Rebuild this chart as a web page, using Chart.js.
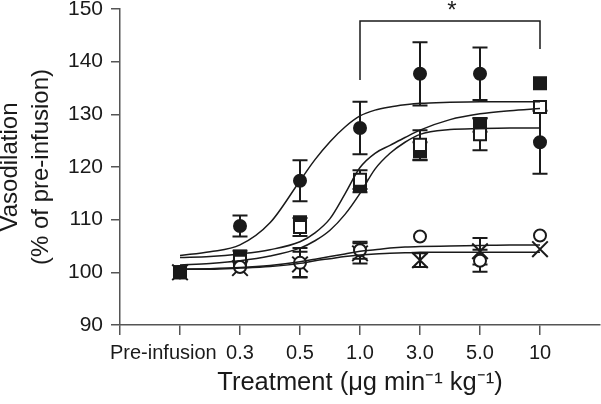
<!DOCTYPE html>
<html>
<head>
<meta charset="utf-8">
<script src="https://cdn.jsdelivr.net/npm/chart.js@4.4.1/dist/chart.umd.min.js"></script>
<style>
  body { margin: 0; background: #fff; }
  #wrap { width: 601px; height: 404px; }
</style>
</head>
<body>
<div id="wrap"><canvas id="chart" width="601" height="404"></canvas></div>
<script>
// --- Datos ---
const categories = ['Pre-infusion', '0.3', '0.5', '1.0', '3.0', '5.0', '10'];
const yTicks = [90, 100, 110, 120, 130, 140, 150];

const filledCircle = [100, 108.8, 117.4, 127.4, 137.7, 137.7, 124.7];
const filledCircleErr = [0, 2.0, 3.9, 5.0, 6.0, 5.0, 6.0];
const filledSquare = [100, 103.0, 109.5, 116.4, 123.0, 128.0, 135.9];
const filledSquareErr = [0, 1.1, 0, 1.2, 1.7, 1.3, 0];
const openSquare = [100, 102.0, 108.6, 117.6, 124.2, 126.2, 131.4];
const openSquareErr = [0, 0, 1.7, 1.8, 2.8, 3.0, 0];
const openCircle = [100, 101.0, 101.8, 104.2, 106.8, 102.2, 107.0];
const openCircleErr = [0, 0, 2.8, 1.6, 0, 2.1, 0];
const cross = [100, 100.8, 101.5, 103.6, 102.3, 104.0, 104.4];
const crossErr = [0, 0, 2.4, 1.9, 1.3, 2.5, 0];

// curvas ajustadas (mas puntos en la zona empinada)
const curveX = [0, 0.5, 1, 1.5, 2, 2.25, 2.5, 2.75, 3, 3.25, 3.5, 3.75, 4, 4.5, 5, 5.5, 6];
const fitFilledCircle = [103.2, 103.9, 105.2, 109.4, 117.4, 121.4, 124.8, 127.6, 129.7, 130.8, 131.4, 131.8, 132.1, 132.3, 132.4, 132.4, 132.4];
const fitOpenSquare = [102.8, 103.0, 103.5, 104.3, 105.8, 107.5, 110.2, 114.9, 119.9, 122.6, 124.1, 125.6, 127.0, 129.0, 130.1, 130.7, 131.1];
const fitFilledSquare = [101.4, 101.7, 102.2, 103.1, 104.6, 106.0, 108.0, 111.0, 115.0, 119.6, 122.6, 124.7, 126.2, 127.1, 127.3, 127.4, 127.4];
const fitOpenCircle = [100.6, 100.7, 100.9, 101.3, 102.0, 102.5, 103.0, 103.5, 104.0, 104.3, 104.6, 104.8, 104.9, 105.0, 105.1, 105.2, 105.2];
const fitCross = [100.6, 100.6, 100.8, 101.1, 101.7, 102.2, 102.6, 103.0, 103.3, 103.5, 103.6, 103.7, 103.8, 103.8, 103.8, 103.8, 103.8];

// corchete de significancia (1.0 a 10)
const bracketFrom = 3, bracketTo = 6;
const bracketTop = 147.7, bracketLeftEnd = 136.5, bracketRightEnd = 142.4;

const INK = '#1a1a1a';
const AXIS = '#555';
Chart.defaults.font.family = "'Liberation Sans', Arial, sans-serif";
Chart.defaults.color = INK;

const toPoints = (vals) => vals.map((v, i) => ({ x: i, y: v }));
const toCurve = (vals) => vals.map((v, i) => ({ x: curveX[i], y: v }));

function markers(vals, errs, style, fill, radius) {
    return {
        data: toPoints(vals),
        errors: errs,
        showLine: false,
        pointStyle: style,
        pointRadius: radius,
        pointBackgroundColor: fill,
        pointBorderColor: INK,
        pointBorderWidth: 2
    };
}

function curve(vals) {
    return {
        data: toCurve(vals),
        showLine: true,
        borderColor: INK,
        borderWidth: 1.5,
        pointRadius: 0,
        cubicInterpolationMode: 'monotone',
        fill: false
    };
}

// --- Barras de error ---
const errorBars = {
    id: 'errorBars',
    beforeDatasetsDraw(chart) {
        const { ctx, scales: { x, y } } = chart;
        ctx.save();
        ctx.strokeStyle = INK;
        ctx.lineWidth = 2;
        chart.data.datasets.forEach(ds => {
            if (!ds.errors) return;
            ds.data.forEach((p, i) => {
                const e = ds.errors[i];
                if (!e) return;
                const px = x.getPixelForValue(p.x);
                const top = y.getPixelForValue(p.y + e);
                const bot = y.getPixelForValue(p.y - e);
                ctx.beginPath();
                ctx.moveTo(px, top); ctx.lineTo(px, bot);
                ctx.moveTo(px - 7.5, top); ctx.lineTo(px + 7.5, top);
                ctx.moveTo(px - 7.5, bot); ctx.lineTo(px + 7.5, bot);
                ctx.stroke();
            });
        });
        ctx.restore();
    }
};

// --- Corchete y asterisco ---
const bracket = {
    id: 'bracket',
    afterDraw(chart) {
        const { ctx, scales: { x, y } } = chart;
        const x1 = x.getPixelForValue(bracketFrom);
        const x2 = x.getPixelForValue(bracketTo);
        const yt = y.getPixelForValue(bracketTop);
        ctx.save();
        ctx.strokeStyle = INK;
        ctx.lineWidth = 1.5;
        ctx.beginPath();
        ctx.moveTo(x1, y.getPixelForValue(bracketLeftEnd));
        ctx.lineTo(x1, yt);
        ctx.lineTo(x2, yt);
        ctx.lineTo(x2, y.getPixelForValue(bracketRightEnd));
        ctx.stroke();
        ctx.fillStyle = INK;
        ctx.font = "24px 'Liberation Sans', Arial, sans-serif";
        ctx.textAlign = 'center';
        ctx.textBaseline = 'middle';
        ctx.fillText('*', (x1 + x2) / 2 + 2, yt - 10);
        ctx.restore();
    }
};

new Chart(document.getElementById('chart'), {
    type: 'scatter',
    data: {
        datasets: [
            curve(fitFilledCircle),
            curve(fitOpenSquare),
            curve(fitFilledSquare),
            curve(fitOpenCircle),
            curve(fitCross),
            markers(filledCircle, filledCircleErr, 'circle', INK, 6),
            markers(openCircle, openCircleErr, 'circle', '#fff', 6),
            markers(cross, crossErr, 'crossRot', INK, 11),
            markers(openSquare, openSquareErr, 'rect', '#fff', 8.5),
            markers(filledSquare, filledSquareErr, 'rect', INK, 8.5)
        ]
    },
    options: {
        responsive: false,
        animation: false,
        layout: { autoPadding: false, padding: { top: 9, right: 1, left: 0, bottom: 0 } },
        plugins: { legend: { display: false }, tooltip: { enabled: false } },
        scales: {
            x: {
                type: 'linear',
                min: -1,
                max: 7,
                afterFit: (s) => { s.height = 79; s.paddingLeft = 0; s.paddingRight = 0; },
                afterBuildTicks: (s) => {
                    s.ticks = [-1, 0, 1, 2, 3, 4, 5, 6].map(v => ({ value: v }));
                },
                grid: { drawOnChartArea: false, drawTicks: true, tickLength: 10, color: AXIS, lineWidth: 1.5 },
                border: { display: true, color: AXIS, width: 1.5 },
                ticks: {
                    padding: 6.2,
                    maxRotation: 0,
                    autoSkip: false,
                    font: { size: 20 },
                    // Pre-infusion va corrido a la izquierda
                    callback: (v) => v === 0 ? categories[0] + '\u00a0\u00a0\u00a0\u00a0\u00a0\u00a0' : (categories[v] || '')
                },
                title: {
                    display: true,
                    text: 'Treatment (\u03bcg min\u207b\u00b9 kg\u207b\u00b9)',
                    font: { size: 25.5, lineHeight: 1.2 },
                    padding: { top: 0, bottom: 5.8 }
                }
            },
            y: {
                min: 90,
                max: 150,
                afterFit: (s) => { s.width = 120; s.paddingTop = 0; s.paddingBottom = 0; },
                afterBuildTicks: (s) => { s.ticks = yTicks.map(v => ({ value: v })); },
                grid: { drawOnChartArea: false, drawTicks: true, tickLength: 9, color: AXIS, lineWidth: 1.5 },
                border: { display: true, color: AXIS, width: 1.5 },
                ticks: { padding: 8, font: { size: 21 } },
                title: {
                    display: true,
                    text: ['Vasodilation', '(% of pre-infusion)'],
                    font: { size: 24, lineHeight: 1.3 },
                    padding: { top: -5.6, bottom: 0 }
                }
            }
        }
    },
    plugins: [errorBars, bracket]
});
</script>
</body>
</html>
